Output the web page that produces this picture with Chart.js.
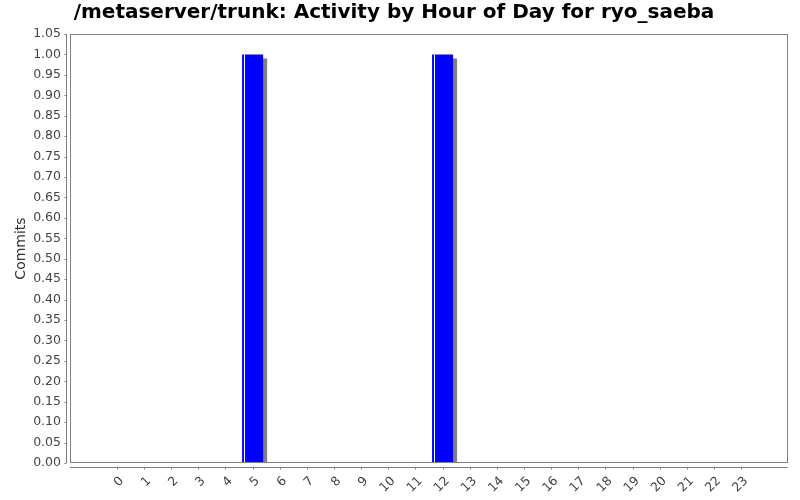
<!DOCTYPE html>
<html>
<head>
<meta charset="utf-8">
<title>Activity by Hour of Day</title>
<script src="https://cdn.jsdelivr.net/npm/chart.js@4/dist/chart.umd.min.js"></script>
<style>
  html, body { margin: 0; padding: 0; background: #fff; }
  #wrap { width: 800px; height: 500px; }
</style>
</head>
<body>
<div id="wrap"><canvas id="hourChart"></canvas></div>
<script>
const hours = ['0','1','2','3','4','5','6','7','8','9','10','11','12','13','14','15','16','17','18','19','20','21','22','23'];
const commits = [0, 0, 0, 0, 0, 1, 0, 0, 0, 0, 0, 0, 1, 0, 0, 0, 0, 0, 0, 0, 0, 0, 0, 0];
const yTicks = [0, 0.05, 0.10, 0.15, 0.20, 0.25, 0.30, 0.35, 0.40, 0.45, 0.50, 0.55, 0.60, 0.65, 0.70, 0.75, 0.80, 0.85, 0.90, 0.95, 1.00, 1.05];

const AXIS_GAP = 4;
const frameColor = '#808080';
const labelFont = '12.5px "DejaVu Sans"';

// marco del area, ejes separados, sombra y brillo de las barras (estilo JFreeChart)
const jfreeLook = {
    id: 'jfreeLook',
    beforeDatasetsDraw(chart) {
        const { ctx, chartArea: a } = chart;
        const meta = chart.getDatasetMeta(0);
        ctx.save();
        ctx.beginPath();
        ctx.rect(a.left, a.top, a.right - a.left, a.bottom - a.top);
        ctx.clip();
        ctx.fillStyle = '#808080';
        meta.data.forEach(bar => {
            const p = bar.getProps(['x', 'y', 'base', 'width'], true);
            if (p.base - p.y < 1) return;
            ctx.fillRect(p.x - p.width / 2 + 4, p.y + 4, p.width, p.base - p.y);
        });
        ctx.restore();
    },
    afterDatasetsDraw(chart) {
        const { ctx } = chart;
        const meta = chart.getDatasetMeta(0);
        ctx.save();
        ctx.fillStyle = '#ffffff';
        meta.data.forEach(bar => {
            const p = bar.getProps(['x', 'y', 'base', 'width'], true);
            if (p.base - p.y < 1) return;
            ctx.fillRect(Math.round(p.x - p.width / 2) + 2, p.y, 1, p.base - p.y);
        });
        ctx.restore();
    },
    afterDraw(chart) {
        const { ctx, chartArea: a, scales } = chart;
        ctx.save();
        ctx.strokeStyle = frameColor;
        ctx.lineWidth = 1;
        ctx.strokeRect(a.left + 0.5, a.top + 0.5, a.right - a.left - 1, a.bottom - a.top - 1);

        // eje Y
        const yx = a.left - AXIS_GAP + 0.5;
        ctx.beginPath();
        ctx.moveTo(yx, a.top);
        ctx.lineTo(yx, a.bottom);
        scales.y.ticks.forEach(t => {
            const py = Math.round(scales.y.getPixelForValue(t.value)) + 0.5;
            ctx.moveTo(yx - 2, py);
            ctx.lineTo(yx, py);
        });
        // eje X
        const xy = a.bottom + AXIS_GAP + 0.5;
        ctx.moveTo(a.left, xy);
        ctx.lineTo(a.right, xy);
        scales.x.ticks.forEach(t => {
            const px = Math.round(scales.x.getPixelForValue(t.value)) + 0.5;
            ctx.moveTo(px, xy);
            ctx.lineTo(px, xy + 2);
        });
        ctx.stroke();

        // etiquetas de hora giradas 45 grados
        ctx.fillStyle = '#444';
        ctx.font = labelFont;
        ctx.textAlign = 'right';
        ctx.textBaseline = 'middle';
        scales.x.ticks.forEach(t => {
            const px = scales.x.getPixelForValue(t.value);
            ctx.save();
            ctx.translate(px + 5, a.bottom + 16);
            ctx.rotate(-Math.PI / 4);
            ctx.fillText(hours[t.value], 0, 0);
            ctx.restore();
        });
        ctx.restore();
    }
};

const ctx = document.getElementById('hourChart').getContext('2d');

new Chart(ctx, {
    type: 'bar',
    data: {
        datasets: [{
            label: 'Commits',
            data: commits.map((c, i) => ({ x: i, y: c })),
            backgroundColor: '#0000ff',
            borderWidth: 0,
            categoryPercentage: 1,
            barPercentage: 0.775
        }]
    },
    options: {
        responsive: true,
        maintainAspectRatio: false,
        animation: false,
        layout: { padding: { left: 0, right: 12, top: 0, bottom: 0 } },
        plugins: {
            legend: { display: false },
            tooltip: { enabled: false },
            title: {
                display: true,
                text: '/metaserver/trunk: Activity by Hour of Day for ryo_saeba',
                color: '#000',
                font: { family: 'DejaVu Sans', size: 20, weight: 'bold' },
                padding: { top: 1, bottom: 9 }
            }
        },
        scales: {
            x: {
                type: 'linear',
                offset: false,
                min: -1.73,
                max: 24.73,
                grid: { display: false, drawTicks: false },
                border: { display: false },
                afterBuildTicks: s => {
                    s.ticks = hours.map((h, i) => ({ value: i }));
                },
                afterFit: s => { s.height = 37; },
                ticks: { display: false, autoSkip: false }
            },
            y: {
                min: 0,
                max: 1.05,
                grid: { display: false, drawTicks: false },
                border: { display: false },
                afterBuildTicks: s => {
                    s.ticks = yTicks.map(v => ({ value: v }));
                },
                afterFit: s => { s.width = 70; },
                title: {
                    display: true,
                    text: 'Commits',
                    color: '#333',
                    font: { family: 'DejaVu Sans', size: 14 },
                    padding: { top: 13, bottom: 0 }
                },
                ticks: {
                    padding: 9,
                    color: '#444',
                    font: { family: 'DejaVu Sans', size: 12.5 },
                    callback: v => v.toFixed(2)
                }
            }
        }
    },
    plugins: [jfreeLook]
});
</script>
</body>
</html>
